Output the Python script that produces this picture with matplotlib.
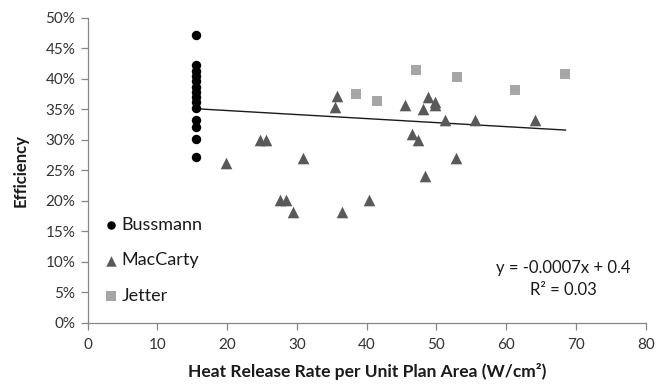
import matplotlib
matplotlib.use("Agg")
import matplotlib.pyplot as plt
import numpy as np
from matplotlib.ticker import FuncFormatter

plt.rcParams['font.family'] = ['Lato', 'DejaVu Sans']

# Data (efficiency in fraction)
bussmann_x = [15.5] * 14
bussmann_y = [0.472, 0.422, 0.413, 0.405, 0.396, 0.387, 0.378, 0.370, 0.361, 0.352,
              0.332, 0.321, 0.301, 0.272]

maccarty_x = [35.7, 35.5, 24.7, 25.5, 19.8, 30.8, 27.5, 28.4, 29.5, 36.5, 40.4,
              45.5, 48.8, 48.1, 49.8, 49.8, 51.2, 55.5, 64.2, 46.5, 47.4, 52.8, 48.3]
maccarty_y = [0.372, 0.354, 0.300, 0.300, 0.261, 0.270, 0.201, 0.201, 0.181, 0.181, 0.201,
              0.357, 0.370, 0.351, 0.362, 0.357, 0.332, 0.332, 0.333, 0.310, 0.300, 0.270, 0.241]

jetter_x = [38.4, 41.5, 47.0, 52.9, 61.3, 68.4]
jetter_y = [0.375, 0.363, 0.414, 0.402, 0.381, 0.408]

trend_slope = -0.00066
trend_intercept = 0.361
trend_x = [15.5, 68.5]

x_ticks = [0, 10, 20, 30, 40, 50, 60, 70, 80]
y_ticks = [0, 0.05, 0.10, 0.15, 0.20, 0.25, 0.30, 0.35, 0.40, 0.45, 0.50]

fig = plt.figure(figsize=(6.71, 3.89), dpi=100)
ax = fig.add_axes([87.7 / 671, 1 - 322.7 / 389, (645.7 - 87.7) / 671, (322.7 - 17.7) / 389])

ax.scatter(bussmann_x, bussmann_y, marker='o', s=46, color='black', label='Bussmann', zorder=3, linewidths=0)
ax.scatter(maccarty_x, maccarty_y, marker='^', s=70, color='#595959', label='MacCarty', zorder=3, linewidths=0)
ax.scatter(jetter_x, jetter_y, marker='s', s=52, color='#A6A6A6', label='Jetter', zorder=3, linewidths=0)

tx = np.array(trend_x)
ax.plot(tx, trend_slope * tx + trend_intercept, color='#1a1a1a', lw=1.0, zorder=2)

ax.set_xlim(0, 80)
ax.set_ylim(0, 0.5)
ax.set_xticks(x_ticks)
ax.set_yticks(y_ticks)
ax.yaxis.set_major_formatter(FuncFormatter(lambda v, p: f"{int(round(v * 100))}%"))

for s in ['top', 'right']:
    ax.spines[s].set_visible(False)
for s in ['left', 'bottom']:
    ax.spines[s].set_color('#868686')
    ax.spines[s].set_linewidth(0.9)
ax.tick_params(axis='both', direction='out', length=5, width=0.9, color='#868686',
               labelsize=11, labelcolor='#333333')
ax.tick_params(axis='x', pad=6)
ax.tick_params(axis='y', pad=4)

ax.set_xlabel('Heat Release Rate per Unit Plan Area (W/cm²)', fontsize=12.5,
              fontweight='bold', color='#1a1a1a', labelpad=8)
ax.set_ylabel('Efficiency', fontsize=12, fontweight='bold', color='#1a1a1a', labelpad=12)

leg = ax.legend(loc='upper left', bbox_to_anchor=(0.012, 0.371), frameon=False,
                fontsize=13, handletextpad=0.1, handlelength=1.0, labelspacing=1.08,
                borderaxespad=0, markerscale=0.9)
for t in leg.get_texts():
    t.set_color('#1a1a1a')

ax.text(0.853, 0.178, 'y = -0.0007x + 0.4', transform=ax.transAxes, ha='center', va='center',
        fontsize=12, color='#1a1a1a')
ax.text(0.853, 0.106, 'R² = 0.03', transform=ax.transAxes, ha='center', va='center',
        fontsize=12, color='#1a1a1a')

fig.savefig('out.png', dpi=100)
